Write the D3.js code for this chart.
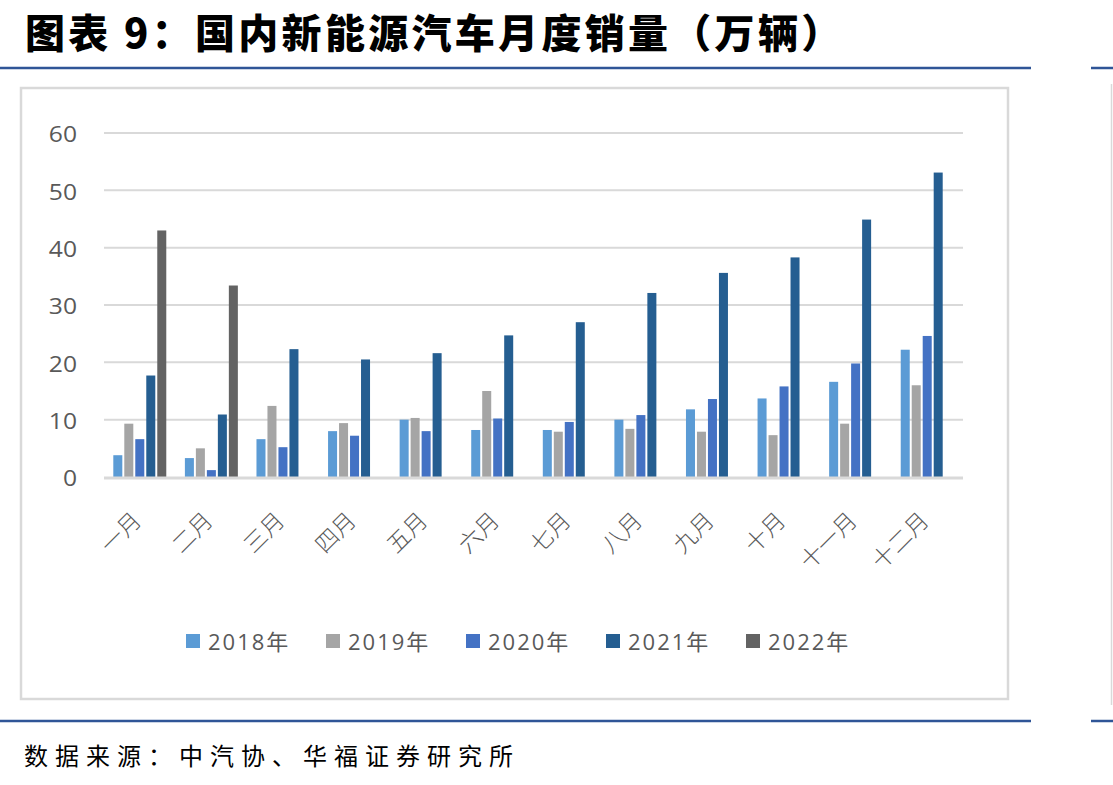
<!DOCTYPE html>
<html>
<head>
<meta charset="utf-8">
<script src="https://cdn.jsdelivr.net/npm/d3@7"></script>
<style>
  body { margin: 0; background: #fff; }
  svg { display: block; }
</style>
</head>
<body>
<div id="chart"></div>
<script>
// chart data
const months = ["一月", "二月", "三月", "四月", "五月", "六月", "七月", "八月", "九月", "十月", "十一月", "十二月"];
const seriesNames = ["2018年", "2019年", "2020年", "2021年", "2022年"];
const sales2018 = [3.8, 3.3, 6.6, 8.0, 10.0, 8.2, 8.2, 10.0, 11.8, 13.7, 16.6, 22.2];
const sales2019 = [9.3, 5.0, 12.4, 9.4, 10.3, 15.0, 7.9, 8.4, 7.9, 7.3, 9.3, 16.0];
const sales2020 = [6.6, 1.2, 5.2, 7.2, 8.0, 10.2, 9.6, 10.8, 13.6, 15.8, 19.8, 24.6];
const sales2021 = [17.7, 10.9, 22.3, 20.5, 21.6, 24.7, 27.0, 32.1, 35.6, 38.3, 44.9, 53.1];
const sales2022 = [43.0, 33.4, null, null, null, null, null, null, null, null, null, null];
const yTicks = [0, 10, 20, 30, 40, 50, 60];

const allSeries = [sales2018, sales2019, sales2020, sales2021, sales2022];
const colors = ["#5B9BD5", "#A5A5A5", "#4472C4", "#255E91", "#636363"];

const W = 1113, H = 785;
const svg = d3.select("#chart").append("svg")
    .attr("width", W)
    .attr("height", H);

// title
svg.append("text")
    .attr("x", 25)
    .attr("y", 48)
    .attr("font-family", "Noto Sans CJK SC")
    .attr("font-weight", 900)
    .attr("font-size", 40)
    .attr("letter-spacing", 3.3)
    .attr("fill", "#000")
    .text("图表 9：国内新能源汽车月度销量（万辆）");

// blue rules top and bottom
[68, 721].forEach(y => {
    svg.append("line").attr("x1", 0).attr("x2", 1031).attr("y1", y).attr("y2", y)
        .attr("stroke", "#2F5597").attr("stroke-width", 2.5);
    svg.append("line").attr("x1", 1091).attr("x2", W).attr("y1", y).attr("y2", y)
        .attr("stroke", "#2F5597").attr("stroke-width", 2.5);
});

// right side thin frame
svg.append("line").attr("x1", 1111.5).attr("x2", 1111.5).attr("y1", 84).attr("y2", 705)
    .attr("stroke", "#D9D9D9").attr("stroke-width", 1.5);

// chart box
svg.append("rect")
    .attr("x", 21).attr("y", 88)
    .attr("width", 987).attr("height", 611)
    .attr("fill", "#fff")
    .attr("stroke", "#D9D9D9")
    .attr("stroke-width", 2.5);

// scales
const x0 = d3.scaleBand()
    .domain(months)
    .range([104, 963])
    .paddingInner(0.26)
    .paddingOuter(0.13);

const x1 = d3.scaleBand()
    .domain(seriesNames)
    .range([0, x0.bandwidth()])
    .paddingInner(0.18);

const y = d3.scaleLinear()
    .domain([0, 60])
    .range([477, 133]);

// gridlines
svg.append("g")
    .selectAll("line")
    .data(yTicks.filter(d => d !== 0))
    .join("line")
    .attr("x1", 104).attr("x2", 963)
    .attr("y1", d => y(d)).attr("y2", d => y(d))
    .attr("stroke", "#D9D9D9")
    .attr("stroke-width", 2);

// y axis labels
const yAxis = d3.axisLeft(y).tickValues(yTicks).tickSize(0).tickPadding(0);
const gy = svg.append("g")
    .attr("transform", "translate(77,0)")
    .call(yAxis);
gy.select(".domain").remove();
gy.selectAll("text")
    .attr("font-family", "Open Sans")
    .attr("font-size", 22)
    .attr("fill", "#595959")
    .attr("dy", "0.4em")
    .attr("transform", "scale(1.12,1)")
    .attr("x", 0);

// bars
const barData = [];
months.forEach((m, i) => {
    allSeries.forEach((s, j) => {
        if (s[i] != null) barData.push({ month: m, series: seriesNames[j], value: s[i], color: colors[j] });
    });
});

svg.append("g")
    .selectAll("rect")
    .data(barData)
    .join("rect")
    .attr("x", d => x0(d.month) + x1(d.series))
    .attr("y", d => y(d.value))
    .attr("width", x1.bandwidth())
    .attr("height", d => y(0) - y(d.value))
    .attr("fill", d => d.color);

// baseline
svg.append("line")
    .attr("x1", 104).attr("x2", 963)
    .attr("y1", y(0) + 1).attr("y2", y(0) + 1)
    .attr("stroke", "#D9D9D9")
    .attr("stroke-width", 3);

// x labels, rotated
svg.append("g")
    .selectAll("text")
    .data(months)
    .join("text")
    .attr("transform", d => `translate(${x0(d) + x0.bandwidth() / 2 + 3}, 522) rotate(-45)`)
    .attr("text-anchor", "end")
    .attr("font-family", "Noto Sans CJK SC")
    .attr("font-weight", 300)
    .attr("font-size", 23)
    .attr("fill", "#595959")
    .text(d => d);

// legend
const lx = d3.scaleBand()
    .domain(seriesNames)
    .range([186, 886]);

const legend = svg.append("g")
    .selectAll("g")
    .data(seriesNames)
    .join("g")
    .attr("transform", d => `translate(${lx(d)}, 634)`);

legend.append("rect")
    .attr("width", 14).attr("height", 14)
    .attr("fill", (d, i) => colors[i]);

legend.append("text")
    .attr("x", 22)
    .attr("y", 16)
    .attr("font-family", "Open Sans, Noto Sans CJK SC")
    .attr("font-size", 22)
    .attr("letter-spacing", 2)
    .attr("fill", "#595959")
    .text(d => d);

// footer source
svg.append("text")
    .attr("x", 24)
    .attr("y", 765)
    .attr("font-family", "Noto Sans CJK SC")
    .attr("font-size", 24)
    .attr("letter-spacing", 7)
    .attr("fill", "#000")
    .text("数据来源：中汽协、华福证券研究所");
</script>
</body>
</html>
